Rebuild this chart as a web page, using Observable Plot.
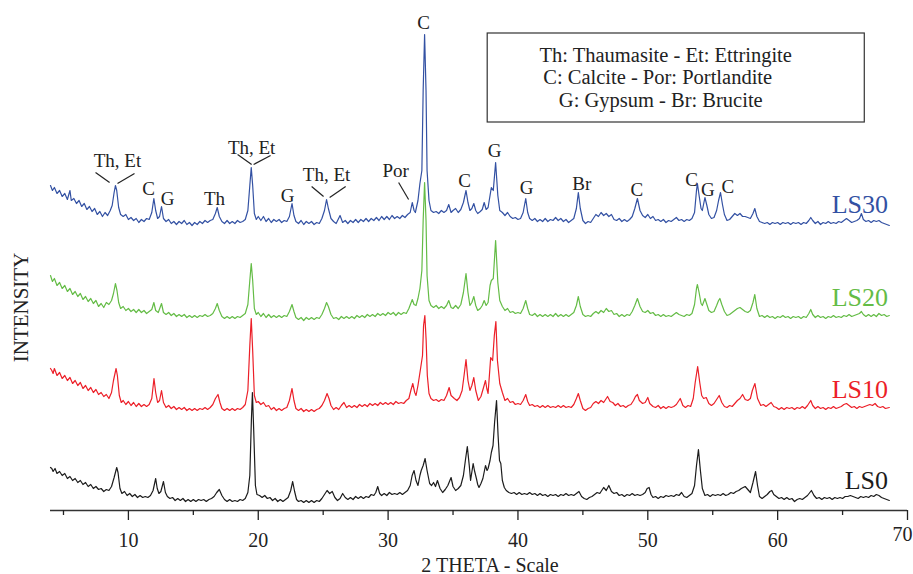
<!DOCTYPE html>
<html><head><meta charset="utf-8">
<script src="https://cdn.jsdelivr.net/npm/d3@7"></script>
<script src="https://cdn.jsdelivr.net/npm/@observablehq/plot@0.6"></script>
<style>
body{margin:0;background:#fff;}
#chart{width:913px;height:574px;}
#chart svg, #chart svg text{font-family:"Liberation Serif","Times New Roman",serif !important;}
</style>
</head><body><div id="chart"></div>
<script>
// ---- data ----
const seriesNames = ["LS0", "LS10", "LS20", "LS30"];
const seriesOffsets = [0, 90, 180, 270];
const seriesColors = ["#1c1c1c", "#ec1f28", "#64bc46", "#3351a3"];

const ls30 = [[4.0,55],[4.15,50],[4.3,53],[4.5,47],[4.7,50],[4.9,44],[5.1,47],[5.3,41],[5.5,50],[5.6,40],[5.8,42],[6.0,37],[6.2,40],[6.4,34],[6.6,37],[6.8,31],[7.0,34],[7.2,29],[7.4,32],[7.6,26],[7.8,29],[8.0,24],[8.2,28],[8.4,25],[8.6,30],[8.75,35],[8.9,48],[9.0,55],[9.1,50],[9.25,33],[9.4,26],[9.6,24],[9.8,26],[10.0,21],[10.2,23],[10.4,20],[10.6,22],[10.8,18],[11.0,21],[11.2,19],[11.4,22],[11.6,21],[11.8,28],[11.96,42],[12.1,30],[12.25,22],[12.4,24],[12.55,34],[12.7,22],[12.9,19],[13.1,21],[13.3,17],[13.5,19],[13.7,16],[13.9,19],[14.1,17],[14.3,20],[14.5,16],[14.7,18],[14.9,15],[15.1,18],[15.3,16],[15.5,19],[15.7,17],[15.9,20],[16.1,18],[16.3,20],[16.5,21],[16.7,27],[16.84,33],[17.0,24],[17.2,19],[17.4,17],[17.6,20],[17.8,17],[18.0,19],[18.2,17],[18.4,20],[18.6,18],[18.8,19],[19.0,21],[19.2,30],[19.35,55],[19.46,73],[19.57,55],[19.7,27],[19.85,21],[20.0,24],[20.2,20],[20.4,24],[20.6,19],[20.8,22],[21.0,18],[21.2,21],[21.4,19],[21.6,21],[21.8,18],[22.0,20],[22.2,19],[22.4,24],[22.6,37],[22.75,25],[22.9,19],[23.1,17],[23.3,20],[23.5,16],[23.7,19],[23.9,17],[24.1,19],[24.3,16],[24.5,18],[24.7,17],[24.9,22],[25.1,30],[25.26,41],[25.4,32],[25.6,22],[25.8,19],[26.0,17],[26.3,25],[26.5,18],[26.7,20],[26.9,17],[27.1,20],[27.3,18],[27.5,21],[27.7,18],[27.9,21],[28.1,19],[28.3,22],[28.5,19],[28.7,22],[28.9,20],[29.1,23],[29.3,20],[29.5,24],[29.7,21],[29.9,24],[30.1,21],[30.3,25],[30.5,22],[30.7,24],[30.9,22],[31.1,25],[31.3,23],[31.5,26],[31.7,28],[31.86,38],[32.0,30],[32.1,28],[32.3,40],[32.45,57],[32.6,70],[32.7,150],[32.81,206],[32.92,150],[33.0,70],[33.15,40],[33.3,30],[33.5,28],[33.7,29],[33.9,27],[34.1,30],[34.3,28],[34.5,30],[34.67,36],[34.85,28],[35.0,30],[35.2,32],[35.4,28],[35.6,31],[35.8,38],[36.0,50],[36.15,38],[36.3,30],[36.45,32],[36.6,37],[36.75,30],[36.9,27],[37.1,29],[37.25,31],[37.4,38],[37.55,31],[37.7,33],[37.85,45],[37.95,53],[38.1,50],[38.28,78],[38.45,45],[38.6,30],[38.8,28],[39.0,25],[39.2,28],[39.4,24],[39.6,22],[39.8,23],[40.0,21],[40.2,22],[40.4,28],[40.6,42],[40.75,28],[40.9,22],[41.1,20],[41.3,22],[41.5,19],[41.7,21],[41.9,19],[42.1,22],[42.3,19],[42.5,21],[42.7,20],[42.9,23],[43.1,20],[43.3,22],[43.5,19],[43.7,21],[43.9,18],[44.1,20],[44.3,22],[44.5,32],[44.65,48],[44.8,32],[45.0,20],[45.2,17],[45.4,19],[45.6,18],[45.8,22],[46.0,26],[46.2,24],[46.4,28],[46.6,25],[46.8,27],[47.0,24],[47.2,26],[47.4,21],[47.6,20],[47.8,22],[48.0,19],[48.2,21],[48.4,19],[48.6,21],[48.8,24],[49.0,32],[49.2,42],[49.4,30],[49.6,25],[49.8,23],[50.0,26],[50.2,22],[50.4,24],[50.6,20],[50.8,21],[51.0,19],[51.2,21],[51.4,18],[51.6,20],[51.8,19],[52.0,21],[52.2,23],[52.4,20],[52.6,21],[52.8,19],[53.0,21],[53.2,20],[53.4,22],[53.6,28],[53.75,50],[53.82,57],[53.95,45],[54.1,32],[54.2,30],[54.4,43],[54.55,35],[54.7,26],[54.9,22],[55.1,23],[55.3,30],[55.45,40],[55.6,48],[55.75,36],[55.9,26],[56.1,20],[56.3,21],[56.5,24],[56.7,27],[56.9,25],[57.1,27],[57.3,24],[57.5,24],[57.7,23],[57.9,22],[58.1,27],[58.24,32],[58.4,24],[58.6,19],[58.8,18],[59.0,17],[59.2,18],[59.4,16],[59.6,18],[59.8,17],[60.0,18],[60.2,16],[60.4,18],[60.6,17],[60.8,18],[61.0,16],[61.2,18],[61.4,17],[61.6,18],[61.8,16],[62.0,18],[62.2,17],[62.4,20],[62.55,23],[62.7,20],[62.9,17],[63.1,19],[63.3,16],[63.5,18],[63.7,17],[63.9,19],[64.1,17],[64.3,18],[64.5,17],[64.7,19],[64.9,18],[65.1,20],[65.3,22],[65.5,20],[65.7,18],[65.9,19],[66.1,20],[66.3,22],[66.45,27],[66.6,21],[66.8,19],[67.0,20],[67.2,18],[67.4,20],[67.6,19],[67.8,20],[68.0,18],[68.2,17],[68.4,16],[68.6,15]];

const ls20 = [[4.0,55],[4.15,49],[4.3,52],[4.5,45],[4.7,48],[4.9,42],[5.1,45],[5.3,39],[5.5,42],[5.7,36],[5.9,39],[6.1,34],[6.3,37],[6.5,31],[6.7,34],[6.9,29],[7.1,32],[7.3,27],[7.5,30],[7.7,24],[7.9,27],[8.1,23],[8.3,28],[8.5,26],[8.7,30],[8.85,37],[9.0,47],[9.12,40],[9.25,28],[9.4,22],[9.6,24],[9.8,20],[10.0,22],[10.2,19],[10.4,21],[10.6,18],[10.8,21],[11.0,18],[11.2,20],[11.4,17],[11.6,19],[11.8,21],[11.96,28],[12.1,20],[12.3,18],[12.55,27],[12.7,18],[12.9,16],[13.1,18],[13.3,15],[13.5,17],[13.7,14],[13.9,16],[14.1,14],[14.3,16],[14.5,13],[14.7,15],[14.9,13],[15.1,15],[15.3,13],[15.5,15],[15.7,14],[15.9,16],[16.1,14],[16.3,15],[16.5,17],[16.7,22],[16.84,27],[17.0,20],[17.2,14],[17.4,12],[17.6,14],[17.8,12],[18.0,14],[18.2,12],[18.4,14],[18.6,13],[18.8,15],[19.0,17],[19.2,26],[19.35,50],[19.46,67],[19.57,50],[19.7,22],[19.85,16],[20.0,18],[20.2,14],[20.4,17],[20.6,13],[20.8,16],[21.0,13],[21.2,15],[21.4,13],[21.6,15],[21.8,13],[22.0,15],[22.2,14],[22.4,19],[22.6,26],[22.75,19],[22.9,13],[23.1,11],[23.3,13],[23.5,10],[23.7,13],[23.9,11],[24.1,13],[24.3,11],[24.5,13],[24.7,12],[24.9,16],[25.1,22],[25.26,28],[25.4,24],[25.6,16],[25.8,12],[26.0,13],[26.2,11],[26.4,14],[26.6,12],[26.8,14],[27.0,12],[27.2,14],[27.4,12],[27.6,15],[27.8,13],[28.0,15],[28.2,13],[28.4,16],[28.6,14],[28.8,16],[29.0,14],[29.2,17],[29.4,15],[29.6,17],[29.8,15],[30.0,18],[30.2,16],[30.4,18],[30.6,15],[30.8,18],[31.0,16],[31.2,18],[31.4,17],[31.6,22],[31.86,31],[32.0,26],[32.15,25],[32.3,32],[32.45,42],[32.6,60],[32.7,110],[32.81,148],[32.92,110],[33.0,55],[33.15,30],[33.3,25],[33.5,23],[33.7,25],[33.9,22],[34.1,24],[34.3,22],[34.5,25],[34.67,30],[34.85,23],[35.0,22],[35.2,25],[35.4,22],[35.6,26],[35.8,38],[36.0,57],[36.15,38],[36.3,25],[36.45,28],[36.6,34],[36.75,25],[36.9,20],[37.1,22],[37.25,25],[37.4,30],[37.55,25],[37.7,28],[37.85,45],[37.95,50],[38.1,52],[38.28,90],[38.45,48],[38.6,30],[38.8,24],[39.0,20],[39.2,22],[39.4,18],[39.6,19],[39.8,17],[40.0,18],[40.2,17],[40.4,22],[40.6,30],[40.75,22],[40.9,16],[41.1,15],[41.3,17],[41.5,14],[41.7,16],[41.9,14],[42.1,16],[42.3,14],[42.5,16],[42.7,14],[42.9,17],[43.1,14],[43.3,16],[43.5,14],[43.7,16],[43.9,14],[44.1,16],[44.3,18],[44.5,25],[44.65,34],[44.8,24],[45.0,16],[45.2,14],[45.4,15],[45.6,14],[45.8,17],[46.0,19],[46.2,17],[46.4,20],[46.6,18],[46.8,22],[47.0,19],[47.2,20],[47.4,16],[47.6,17],[47.8,14],[48.0,16],[48.2,14],[48.4,16],[48.6,15],[48.8,19],[49.0,25],[49.2,32],[49.4,24],[49.6,19],[49.8,18],[50.0,20],[50.2,17],[50.4,18],[50.6,15],[50.8,16],[51.0,14],[51.2,16],[51.4,14],[51.6,15],[51.8,14],[52.0,16],[52.2,18],[52.4,16],[52.6,15],[52.8,14],[53.0,16],[53.2,15],[53.4,17],[53.6,26],[53.75,42],[53.82,46],[53.95,38],[54.1,27],[54.2,25],[54.4,32],[54.55,26],[54.7,20],[54.9,18],[55.1,19],[55.3,25],[55.45,30],[55.55,32],[55.7,26],[55.9,19],[56.1,15],[56.3,16],[56.5,18],[56.7,20],[56.9,22],[57.1,23],[57.3,21],[57.5,19],[57.7,18],[57.9,20],[58.1,28],[58.24,36],[58.4,22],[58.6,14],[58.8,15],[59.0,13],[59.2,15],[59.4,13],[59.6,14],[59.8,12],[60.0,14],[60.2,13],[60.4,15],[60.6,13],[60.8,14],[61.0,12],[61.2,14],[61.4,13],[61.6,14],[61.8,12],[62.0,14],[62.2,13],[62.4,17],[62.55,21],[62.7,16],[62.9,13],[63.1,15],[63.3,13],[63.5,14],[63.7,12],[63.9,14],[64.1,13],[64.3,15],[64.5,13],[64.7,14],[64.9,13],[65.1,15],[65.3,14],[65.5,16],[65.7,14],[65.9,15],[66.1,16],[66.3,17],[66.45,19],[66.6,16],[66.8,14],[67.0,16],[67.2,14],[67.4,16],[67.6,14],[67.8,17],[68.0,15],[68.2,16],[68.4,14],[68.6,15]];

const ls10 = [[4.0,52],[4.1,50],[4.2,47],[4.3,52],[4.5,45],[4.7,48],[4.9,42],[5.1,45],[5.3,40],[5.5,43],[5.7,37],[5.9,40],[6.1,35],[6.3,38],[6.5,32],[6.7,35],[6.9,30],[7.1,33],[7.3,28],[7.5,31],[7.7,26],[7.9,28],[8.1,24],[8.3,26],[8.5,22],[8.7,28],[8.85,40],[9.05,52],[9.15,45],[9.3,25],[9.45,18],[9.6,20],[9.8,16],[10.0,19],[10.2,15],[10.4,18],[10.6,14],[10.8,17],[11.0,14],[11.2,16],[11.4,14],[11.6,16],[11.8,22],[11.97,42],[12.1,28],[12.25,18],[12.4,20],[12.55,30],[12.7,18],[12.9,13],[13.1,15],[13.3,12],[13.5,14],[13.7,11],[13.9,13],[14.1,11],[14.3,13],[14.5,10],[14.7,12],[14.9,10],[15.1,12],[15.3,10],[15.5,12],[15.7,11],[15.9,13],[16.1,11],[16.3,13],[16.5,16],[16.7,22],[16.9,26],[17.05,18],[17.2,12],[17.4,10],[17.6,12],[17.8,10],[18.0,12],[18.2,10],[18.4,12],[18.6,11],[18.8,13],[19.0,16],[19.2,30],[19.35,75],[19.46,102],[19.57,70],[19.7,25],[19.85,18],[20.0,19],[20.2,16],[20.4,18],[20.6,14],[20.8,15],[21.0,11],[21.2,13],[21.4,10],[21.6,12],[21.8,10],[22.0,12],[22.2,13],[22.4,20],[22.6,32],[22.75,20],[22.9,12],[23.1,10],[23.3,12],[23.5,9],[23.7,11],[23.9,9],[24.1,11],[24.3,9],[24.5,11],[24.7,12],[24.9,15],[25.1,20],[25.3,27],[25.45,22],[25.6,15],[25.8,11],[26.0,13],[26.2,11],[26.4,15],[26.6,18],[26.8,13],[27.0,15],[27.2,13],[27.4,15],[27.6,13],[27.8,16],[28.0,14],[28.2,16],[28.4,14],[28.6,17],[28.8,15],[29.0,17],[29.2,15],[29.4,18],[29.6,16],[29.8,18],[30.0,16],[30.2,18],[30.4,16],[30.6,19],[30.8,17],[31.0,18],[31.2,17],[31.4,20],[31.6,22],[31.75,30],[31.9,37],[32.05,28],[32.15,25],[32.3,35],[32.5,52],[32.65,65],[32.73,95],[32.83,105],[32.93,80],[33.02,45],[33.15,27],[33.3,22],[33.5,20],[33.7,21],[33.9,19],[34.1,21],[34.3,20],[34.5,25],[34.7,33],[34.85,25],[35.1,22],[35.3,20],[35.5,23],[35.7,30],[35.85,45],[36.0,61],[36.15,40],[36.3,30],[36.45,35],[36.6,43],[36.75,30],[36.95,20],[37.15,24],[37.35,33],[37.5,40],[37.6,32],[37.7,27],[37.8,45],[37.9,63],[38.05,60],[38.18,85],[38.3,99],[38.42,60],[38.6,37],[38.8,28],[39.0,20],[39.2,22],[39.4,18],[39.6,19],[39.8,16],[40.0,17],[40.2,16],[40.4,20],[40.6,26],[40.75,19],[40.9,15],[41.1,16],[41.3,14],[41.5,15],[41.7,13],[41.9,15],[42.1,13],[42.3,15],[42.5,13],[42.7,14],[42.9,13],[43.1,15],[43.3,13],[43.5,15],[43.7,13],[43.9,14],[44.1,13],[44.3,16],[44.5,22],[44.65,27],[44.8,20],[45.0,12],[45.2,10],[45.4,12],[45.6,13],[45.8,17],[46.0,19],[46.2,17],[46.4,20],[46.6,18],[46.9,24],[47.1,19],[47.3,18],[47.5,15],[47.7,17],[47.9,14],[48.1,15],[48.3,13],[48.5,15],[48.7,16],[48.9,20],[49.05,24],[49.2,26],[49.35,20],[49.6,17],[49.8,18],[50.0,23],[50.15,17],[50.4,14],[50.6,13],[50.8,15],[51.0,12],[51.2,14],[51.4,12],[51.6,14],[51.8,13],[52.0,14],[52.2,16],[52.5,22],[52.7,15],[52.9,13],[53.1,15],[53.3,14],[53.5,22],[53.65,38],[53.84,54],[54.0,38],[54.15,25],[54.3,22],[54.5,23],[54.7,17],[54.9,15],[55.1,17],[55.3,21],[55.5,25],[55.7,18],[55.9,14],[56.1,13],[56.3,15],[56.5,14],[56.7,17],[56.9,20],[57.1,22],[57.3,26],[57.5,21],[57.7,20],[57.9,22],[58.05,30],[58.25,37],[58.45,22],[58.7,15],[58.9,16],[59.1,14],[59.3,16],[59.5,18],[59.7,14],[59.9,13],[60.1,11],[60.3,13],[60.5,11],[60.7,13],[60.9,12],[61.1,13],[61.3,11],[61.5,13],[61.7,12],[61.9,14],[62.1,12],[62.3,15],[62.55,20],[62.7,15],[62.9,12],[63.1,14],[63.3,12],[63.5,13],[63.7,11],[63.9,13],[64.1,12],[64.3,14],[64.5,12],[64.7,13],[64.9,14],[65.1,16],[65.3,17],[65.5,15],[65.7,13],[65.9,14],[66.1,12],[66.3,14],[66.5,13],[66.7,14],[66.9,15],[67.1,16],[67.3,15],[67.5,17],[67.7,14],[67.9,13],[68.1,14],[68.3,12],[68.6,13]];

const ls0 = [[4.0,43],[4.1,42],[4.2,39],[4.35,42],[4.5,37],[4.7,39],[4.9,35],[5.1,37],[5.3,32],[5.5,34],[5.7,30],[5.9,32],[6.1,28],[6.3,30],[6.5,26],[6.7,28],[6.9,24],[7.1,26],[7.3,22],[7.5,24],[7.7,21],[7.9,22],[8.1,19],[8.3,21],[8.5,20],[8.7,24],[8.9,33],[9.1,43],[9.2,38],[9.35,22],[9.5,17],[9.7,19],[9.9,15],[10.1,17],[10.3,14],[10.5,16],[10.7,13],[10.9,15],[11.1,13],[11.3,14],[11.5,13],[11.7,15],[11.9,20],[12.1,32],[12.22,22],[12.35,17],[12.5,19],[12.7,29],[12.85,18],[13.0,14],[13.2,12],[13.4,13],[13.6,10],[13.8,12],[14.0,10],[14.2,12],[14.4,9],[14.6,11],[14.8,9],[15.0,11],[15.2,9],[15.4,11],[15.6,10],[15.8,11],[16.0,9],[16.2,11],[16.4,12],[16.6,14],[16.8,18],[17.0,21],[17.2,15],[17.4,11],[17.6,9],[17.8,11],[18.0,9],[18.2,10],[18.4,9],[18.6,11],[18.8,10],[19.0,12],[19.2,18],[19.35,35],[19.47,90],[19.55,118],[19.65,80],[19.78,25],[19.9,16],[20.1,15],[20.3,13],[20.5,15],[20.7,12],[20.9,13],[21.1,10],[21.3,12],[21.5,9],[21.7,11],[21.9,9],[22.1,11],[22.3,13],[22.5,20],[22.65,29],[22.8,19],[22.95,11],[23.1,9],[23.3,10],[23.5,8],[23.7,10],[23.9,8],[24.1,10],[24.3,8],[24.5,10],[24.7,9],[24.9,12],[25.1,16],[25.3,20],[25.5,17],[25.7,19],[25.9,13],[26.1,10],[26.3,12],[26.5,17],[26.7,13],[26.9,11],[27.1,13],[27.3,11],[27.5,14],[27.7,12],[27.9,14],[28.1,12],[28.3,14],[28.5,13],[28.7,16],[28.9,15],[29.05,18],[29.2,24],[29.35,17],[29.5,15],[29.7,17],[29.9,15],[30.1,18],[30.3,16],[30.5,17],[30.7,16],[30.9,18],[31.1,16],[31.3,18],[31.5,20],[31.7,25],[31.85,35],[32.0,40],[32.15,30],[32.3,25],[32.45,35],[32.55,40],[32.7,45],[32.85,52],[33.0,40],[33.2,27],[33.35,25],[33.5,28],[33.65,24],[33.8,30],[34.0,22],[34.2,18],[34.4,21],[34.6,25],[34.85,33],[35.0,24],[35.2,20],[35.4,22],[35.6,25],[35.8,35],[35.95,50],[36.1,64],[36.25,45],[36.35,30],[36.55,47],[36.65,40],[36.8,32],[36.9,26],[37.0,23],[37.15,27],[37.3,32],[37.5,45],[37.62,40],[37.7,42],[37.85,50],[37.95,58],[38.08,65],[38.2,88],[38.35,110],[38.47,75],[38.58,50],[38.68,47],[38.8,30],[38.95,23],[39.1,20],[39.3,18],[39.5,17],[39.7,18],[39.9,16],[40.1,18],[40.3,16],[40.5,17],[40.7,16],[40.9,18],[41.1,16],[41.3,17],[41.5,15],[41.7,17],[41.9,15],[42.1,16],[42.3,14],[42.5,16],[42.7,15],[42.9,16],[43.1,14],[43.3,16],[43.5,15],[43.7,17],[43.9,15],[44.1,16],[44.3,15],[44.5,17],[44.7,19],[44.9,14],[45.1,12],[45.3,11],[45.5,13],[45.7,14],[45.9,16],[46.1,18],[46.3,17],[46.5,21],[46.6,23],[46.8,20],[47.0,25],[47.2,19],[47.4,17],[47.6,18],[47.8,15],[48.0,16],[48.2,14],[48.4,16],[48.6,15],[48.8,17],[49.0,15],[49.2,16],[49.4,15],[49.6,16],[49.8,18],[49.95,22],[50.1,23],[50.25,16],[50.4,13],[50.6,14],[50.8,12],[51.0,14],[51.2,13],[51.4,15],[51.6,14],[51.8,15],[52.0,14],[52.2,16],[52.4,15],[52.6,18],[52.8,14],[53.0,13],[53.2,15],[53.4,17],[53.6,25],[53.75,45],[53.9,61],[54.05,40],[54.2,22],[54.4,15],[54.6,16],[54.8,14],[55.0,16],[55.2,15],[55.4,16],[55.6,15],[55.8,17],[56.0,15],[56.2,16],[56.4,18],[56.6,17],[56.8,19],[57.0,20],[57.2,22],[57.5,24],[57.7,21],[57.9,18],[58.1,28],[58.3,39],[58.45,25],[58.6,14],[58.8,12],[59.0,14],[59.2,16],[59.4,19],[59.55,20],[59.7,16],[59.9,14],[60.1,12],[60.3,13],[60.5,11],[60.7,13],[60.9,11],[61.1,12],[61.3,9],[61.5,11],[61.7,12],[61.9,11],[62.1,13],[62.3,15],[62.6,20],[62.8,15],[63.0,12],[63.2,13],[63.4,11],[63.6,13],[63.8,12],[64.0,13],[64.2,11],[64.4,13],[64.6,12],[64.8,13],[65.0,12],[65.2,14],[65.4,14],[65.6,15],[65.8,14],[66.0,13],[66.2,12],[66.4,14],[66.6,13],[66.8,14],[67.0,13],[67.2,15],[67.4,14],[67.6,16],[67.8,15],[68.0,13],[68.2,12],[68.4,11],[68.6,10]];

const majorTicks = [10, 20, 30, 40, 50, 60, 70];
const minorTicks = [5, 15, 25, 35, 45, 55, 65];

// phase labels above the LS30 pattern: text, 2θ, height
const peakLabelText  = ["Th, Et", "C", "G", "Th", "Th, Et", "G", "Th, Et", "Por", "C", "C", "G", "G", "Br", "C", "C", "G", "C"];
const peakLabelTheta = [9.16, 11.55, 13.01, 16.63, 19.49, 22.26, 25.26, 30.58, 32.74, 35.9, 38.21, 40.67, 44.91, 49.15, 53.38, 54.62, 56.16];
const peakLabelY     = [350, 322, 312, 312, 363, 315, 336, 340, 488, 330, 360, 323, 327, 321, 331, 321, 324];

// leader lines (from label to peak)
const leaderX1 = [7.47, 10.47, 18.41, 20.95, 24.11, 26.73, 30.81];
const leaderY1 = [338, 337, 356, 355, 324, 324, 328];
const leaderX2 = [8.55, 9.16, 19.49, 19.64, 25.03, 25.50, 31.58];
const leaderY2 = [328, 327, 346, 346, 314, 313, 311];

const legendLines = ["Th: Thaumasite - Et: Ettringite", "C: Calcite - Por: Portlandite", "G: Gypsum - Br: Brucite"];

// ---- build table ----
const rawSeries = [ls0, ls10, ls20, ls30];
const rows = rawSeries.flatMap((pts, i) => pts.map(([t, v]) => ({series: seriesNames[i], theta: t, intensity: v + seriesOffsets[i]})));
const seriesLabelRows = seriesNames.map((s, i) => ({series: s, theta: 68.5, y: [30, 121, 213, 306][i]}));
const peakRows = peakLabelText.map((t, i) => ({text: t, theta: peakLabelTheta[i], y: peakLabelY[i]}));
const leaderRows = leaderX1.map((x, i) => ({x1: x, y1: leaderY1[i], x2: leaderX2[i], y2: leaderY2[i]}));
const legendRows = legendLines.map((t, i) => ({text: t, theta: [51.38, 50.76, 51.0][i], y: [455, 433, 410][i]}));
const lastTick = majorTicks[majorTicks.length - 1];

const serif = "Liberation Serif";

const chart = Plot.plot({
  width: 913,
  height: 574,
  marginLeft: 50,
  marginRight: 6,
  marginTop: 0,
  marginBottom: 64,
  style: "font-family: 'Liberation Serif', serif; background: #fff; color: #222; overflow: visible;",
  x: {domain: [4, 70]},
  y: {domain: [0, 510], axis: null},
  color: {domain: seriesNames, range: seriesColors},
  marks: [
    Plot.ruleY([0], {stroke: "#333", strokeWidth: 1.3}),
    Plot.axisX(minorTicks, {tickSize: 5, tickFormat: () => "", label: null, strokeWidth: 1.3}),
    Plot.axisX(majorTicks, {tickSize: 10, tickPadding: 12, fontSize: 20, fontFamily: serif, label: null, strokeWidth: 1.3, fill: "#222",
      tickFormat: d => d === lastTick ? "" : String(d)}),
    Plot.text([lastTick], {x: d => d, frameAnchor: "bottom", dy: 30, dx: -5, fontSize: 20, fontFamily: serif, fill: "#222"}),
    Plot.line(rows, {x: "theta", y: "intensity", z: "series", stroke: "series", strokeWidth: 1.2, curve: "linear"}),
    Plot.text(seriesLabelRows, {x: "theta", y: "y", text: "series", fill: "series", textAnchor: "end", fontSize: 26, fontFamily: serif}),
    Plot.link(leaderRows, {x1: "x1", y1: "y1", x2: "x2", y2: "y2", stroke: "#222", strokeWidth: 1.2}),
    Plot.text(peakRows, {x: "theta", y: "y", text: "text", fontSize: 19, fontFamily: serif, fill: "#222"}),
    Plot.rect([{x1: 37.67, x2: 66.71, y1: 388, y2: 477}], {x1: "x1", x2: "x2", y1: "y1", y2: "y2", fill: "none", stroke: "#333", strokeWidth: 1.2}),
    Plot.text(legendRows, {x: "theta", y: "y", text: "text", fontSize: 20.5, fontFamily: serif, fill: "#222"}),
    Plot.text(["2 THETA - Scale"], {frameAnchor: "bottom", dx: 11, dy: 61, fontSize: 20, fontFamily: serif, fill: "#222"}),
    Plot.text(["INTENSITY"], {x: () => 1.73, y: () => 203, rotate: -90, fontSize: 21, fontFamily: serif, fill: "#222"})
  ]
});
document.getElementById("chart").append(chart);
</script>
</body></html>
